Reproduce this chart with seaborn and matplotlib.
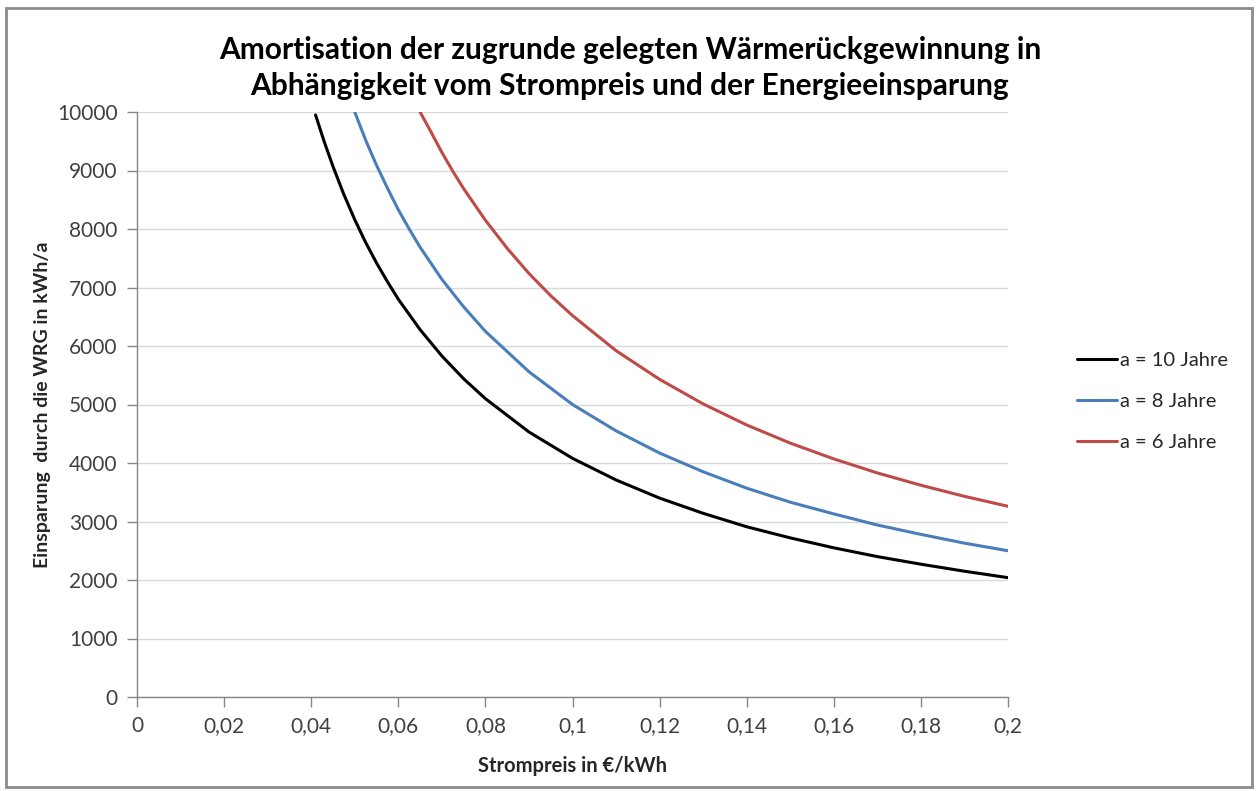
import matplotlib
matplotlib.use("Agg")
import matplotlib.pyplot as plt
import seaborn as sns
import pandas as pd
from matplotlib.patches import Rectangle

# --- data ---
x_10 = [0.041, 0.043, 0.045, 0.0475, 0.05, 0.0525, 0.055, 0.0575, 0.06, 0.065, 0.07, 0.075, 0.08, 0.09, 0.1,
        0.11, 0.12, 0.13, 0.14, 0.15, 0.16, 0.17, 0.18, 0.19, 0.2]
y_10 = [9950, 9490, 9070, 8590, 8160, 7770, 7420, 7100, 6800, 6280, 5830, 5440, 5100, 4530, 4080,
        3710, 3400, 3140, 2910, 2720, 2550, 2400, 2270, 2150, 2040]

x_8 = [0.05, 0.0525, 0.055, 0.0575, 0.06, 0.0625, 0.065, 0.07, 0.075, 0.08, 0.09, 0.1,
       0.11, 0.12, 0.13, 0.14, 0.15, 0.16, 0.17, 0.18, 0.19, 0.2]
y_8 = [10000, 9520, 9090, 8700, 8330, 8000, 7690, 7140, 6670, 6250, 5560, 5000,
       4550, 4170, 3850, 3570, 3330, 3130, 2940, 2780, 2630, 2500]

x_6 = [0.065, 0.0675, 0.07, 0.0725, 0.075, 0.08, 0.085, 0.09, 0.095, 0.1,
       0.11, 0.12, 0.13, 0.14, 0.15, 0.16, 0.17, 0.18, 0.19, 0.2]
y_6 = [10000, 9660, 9310, 8990, 8690, 8150, 7670, 7240, 6860, 6520,
       5920, 5430, 5010, 4650, 4340, 4070, 3830, 3620, 3430, 3260]

series_labels = ["a = 10 Jahre", "a = 8 Jahre", "a = 6 Jahre"]
series_colors = ["#000000", "#4a7ebb", "#be4b48"]

x_ticks = [0, 0.02, 0.04, 0.06, 0.08, 0.1, 0.12, 0.14, 0.16, 0.18, 0.2]
x_tick_labels = ["0", "0,02", "0,04", "0,06", "0,08", "0,1", "0,12", "0,14", "0,16", "0,18", "0,2"]
y_ticks = list(range(0, 10001, 1000))

title = "Amortisation der zugrunde gelegten Wärmerückgewinnung in\nAbhängigkeit vom Strompreis und der Energieeinsparung"
xlabel = "Strompreis in €/kWh"
ylabel = "Einsparung  durch die WRG in kWh/a"

df = pd.concat([
    pd.DataFrame({"x": x_10, "y": y_10, "s": series_labels[0]}),
    pd.DataFrame({"x": x_8, "y": y_8, "s": series_labels[1]}),
    pd.DataFrame({"x": x_6, "y": y_6, "s": series_labels[2]}),
])

sns.set_style("white")
plt.rcParams["font.family"] = ["Lato", "DejaVu Sans"]

fig = plt.figure(figsize=(12.6, 7.91), dpi=100)
ax = fig.add_axes([137/1260, 1 - 697/791, (1008-137)/1260, (697-112)/791])

sns.lineplot(data=df, x="x", y="y", hue="s", palette=dict(zip(series_labels, series_colors)),
             linewidth=2.2, ax=ax, sort=False, estimator=None)

ax.set_xlim(0, 0.2)
ax.set_ylim(0, 10000)
ax.set_xticks(x_ticks)
ax.set_xticklabels(x_tick_labels)
ax.set_yticks(y_ticks)
ax.yaxis.grid(True, color="#d9d9d9", linewidth=1.0)
ax.xaxis.grid(False)
for side in ["top", "right"]:
    ax.spines[side].set_visible(False)
for side in ["left", "bottom"]:
    ax.spines[side].set_color("#868686")
    ax.spines[side].set_linewidth(1.0)
ax.tick_params(axis="both", which="major", direction="out", length=7, width=1.0,
               color="#868686", labelsize=15, labelcolor="#404040", pad=7, left=True, bottom=True)

ax.set_xlabel(xlabel, fontsize=14.5, fontweight="bold", labelpad=14)
ax.set_ylabel(ylabel, fontsize=14, fontweight="bold", labelpad=4)

fig.text(0.5 + 0.0, 0.955, title, ha="center", va="top", fontsize=21.5, fontweight="bold",
         linespacing=1.35, color="#000000")

leg = ax.legend(loc="center left", bbox_to_anchor=(1.058, 0.505), frameon=False, fontsize=14.5,
                handlelength=2.0, handletextpad=0.15, labelspacing=1.2)

fig.patches.append(Rectangle((6/1260, 4/791), 1246/1260, 779/791, transform=fig.transFigure,
                             fill=False, edgecolor="#8c8c8c", linewidth=2))

fig.savefig("out.png", dpi=100)
